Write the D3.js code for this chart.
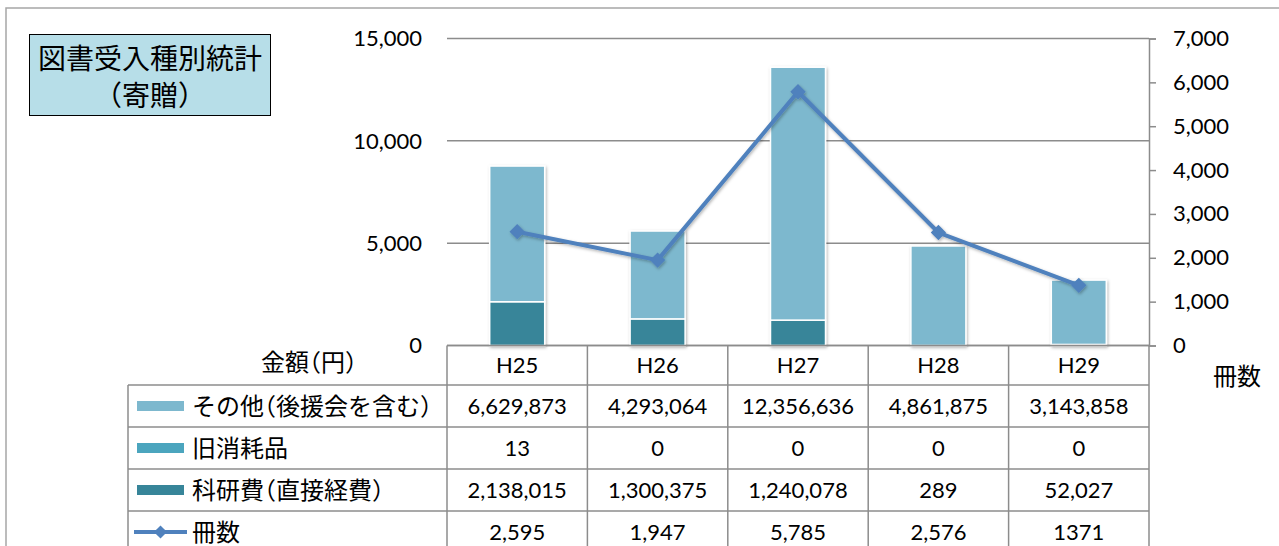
<!DOCTYPE html>
<html>
<head>
<meta charset="utf-8">
<script src="https://cdn.jsdelivr.net/npm/d3@7"></script>
<style>
  body { margin: 0; background: #fff; }
  svg { display: block; }
  .jp { font-feature-settings: "halt"; }
</style>
</head>
<body>
<svg id="chart" width="1279" height="546"></svg>
<script>
// data (yen / books)
const categories = ['H25', 'H26', 'H27', 'H28', 'H29'];
const otherYen = [6629873, 4293064, 12356636, 4861875, 3143858];
const consumableYen = [13, 0, 0, 0, 0];
const kakenYen = [2138015, 1300375, 1240078, 289, 52027];
const books = [2595, 1947, 5785, 2576, 1371];
const bookLabels = ['2,595', '1,947', '5,785', '2,576', '1371'];
const leftTicks = [0, 5000, 10000, 15000];
const rightTicks = [0, 1000, 2000, 3000, 4000, 5000, 6000, 7000];

const seriesNames = ['その他（後援会を含む）', '旧消耗品', '科研費（直接経費）', '冊数'];
const colors = ['#7db8ce', '#4ba5be', '#378599', '#4f81bd'];

const numFont = 'Lato, "Open Sans", sans-serif';
const jpFont = '"Noto Sans CJK JP", "Noto Sans", sans-serif';
const lineCol = '#8c8c8c';

// layout
const plot = { left: 447, right: 1149, top: 38.5, bottom: 345.5 };
const rowY = [345.5, 385, 427, 469, 511, 553];
const legendLeft = 128;

const svg = d3.select('#chart');
const defs = svg.append('defs');
defs.append('filter').attr('id', 'shadow')
    .attr('x', '-20%').attr('y', '-20%').attr('width', '140%').attr('height', '140%')
    .append('feDropShadow')
    .attr('dx', 1).attr('dy', 1.5).attr('stdDeviation', 1.5)
    .attr('flood-color', '#000').attr('flood-opacity', 0.3);

// outer chart border
svg.append('rect')
    .attr('x', 6).attr('y', 8).attr('width', 1300).attr('height', 600)
    .attr('fill', '#fff').attr('stroke', '#a6a6a6').attr('stroke-width', 1.5);

// scales
const x = d3.scaleBand().domain(categories).range([plot.left, plot.right]).padding(0);
const y = d3.scaleLinear().domain([0, 15000]).range([plot.bottom, plot.top]);
const yR = d3.scaleLinear().domain([0, 7000]).range([plot.bottom, plot.top]);

// gridlines
svg.append('g')
    .selectAll('line')
    .data(leftTicks)
    .enter()
    .append('line')
    .attr('x1', plot.left).attr('x2', plot.right)
    .attr('y1', d => y(d)).attr('y2', d => y(d))
    .attr('stroke', lineCol).attr('stroke-width', 1.5);

// left axis labels
svg.append('g')
    .selectAll('text')
    .data(leftTicks)
    .enter()
    .append('text')
    .attr('x', 422)
    .attr('y', d => y(d))
    .attr('dy', '0.35em')
    .attr('text-anchor', 'end')
    .attr('font-family', numFont)
    .attr('font-size', 22)
    .attr('fill', '#000')
    .text(d => d3.format(',')(d));

// right axis
const rAxis = svg.append('g')
    .attr('transform', 'translate(' + plot.right + ',0)')
    .call(d3.axisRight(yR).tickValues(rightTicks).tickSize(7).tickPadding(17).tickFormat(d3.format(',')));
rAxis.select('.domain').attr('stroke', lineCol).attr('stroke-width', 1.5);
rAxis.selectAll('.tick line').attr('stroke', lineCol).attr('stroke-width', 1.5);
rAxis.selectAll('.tick text')
    .attr('font-family', numFont).attr('font-size', 22).attr('fill', '#000');

// stacked bars (bottom: 科研費, then 旧消耗品, then その他)
const stackRows = categories.map((c, i) => ({
    cat: c,
    kaken: kakenYen[i] / 1000,
    consumable: consumableYen[i] / 1000,
    other: otherYen[i] / 1000
}));
const keys = ['kaken', 'consumable', 'other'];
const keyColor = { kaken: colors[2], consumable: colors[1], other: colors[0] };
const stacked = d3.stack().keys(keys)(stackRows);
const barW = 55;

svg.append('g')
    .attr('filter', 'url(#shadow)')
    .selectAll('g')
    .data(stacked)
    .enter()
    .append('g')
    .attr('fill', d => keyColor[d.key])
    .selectAll('rect')
    .data(d => d.map(v => ({ v: v, cat: v.data.cat })))
    .enter()
    .append('rect')
    .filter(d => y(d.v[0]) - y(d.v[1]) > 0.3)
    .attr('x', d => x(d.cat) + x.bandwidth() / 2 - barW / 2)
    .attr('y', d => y(d.v[1]))
    .attr('width', barW)
    .attr('height', d => y(d.v[0]) - y(d.v[1]))
    .attr('stroke', '#fff')
    .attr('stroke-width', 1.5);

// line for 冊数
const cx = c => x(c) + x.bandwidth() / 2;
const lineG = svg.append('g').attr('filter', 'url(#shadow)');
lineG.append('path')
    .datum(categories.map((c, i) => [cx(c), yR(books[i])]))
    .attr('d', d3.line())
    .attr('fill', 'none')
    .attr('stroke', colors[3])
    .attr('stroke-width', 4)
    .attr('stroke-linejoin', 'round');
lineG.selectAll('path.mk')
    .data(categories)
    .enter()
    .append('path')
    .attr('class', 'mk')
    .attr('d', d3.symbol().type(d3.symbolDiamond2).size(150))
    .attr('transform', (c, i) => 'translate(' + cx(c) + ',' + yR(books[i]) + ')')
    .attr('fill', colors[3]);

// data table
const tbl = svg.append('g');
const tLines = [];
// horizontal lines
tLines.push([plot.left, rowY[0], plot.right, rowY[0]]);
for (let r = 1; r < rowY.length; r++) tLines.push([legendLeft, rowY[r], plot.right, rowY[r]]);
// vertical lines
tLines.push([legendLeft, rowY[1], legendLeft, 560]);
categories.forEach(c => tLines.push([x(c), rowY[0], x(c), 560]));
tLines.push([plot.right, rowY[0], plot.right, 560]);
tbl.selectAll('line')
    .data(tLines)
    .enter()
    .append('line')
    .attr('x1', d => d[0]).attr('y1', d => d[1])
    .attr('x2', d => d[2]).attr('y2', d => d[3])
    .attr('stroke', lineCol).attr('stroke-width', 1.5);

// header row
tbl.selectAll('text.hdr')
    .data(categories)
    .enter()
    .append('text')
    .attr('class', 'hdr')
    .attr('x', d => cx(d))
    .attr('y', (rowY[0] + rowY[1]) / 2)
    .attr('dy', '0.35em')
    .attr('text-anchor', 'middle')
    .attr('font-family', numFont)
    .attr('font-size', 22)
    .text(d => d);

// value rows
const rowValues = [
    otherYen.map(d3.format(',')),
    consumableYen.map(d3.format(',')),
    kakenYen.map(d3.format(',')),
    bookLabels
];
rowValues.forEach((vals, r) => {
    const yc = (rowY[r + 1] + rowY[r + 2]) / 2;
    tbl.append('g')
        .selectAll('text')
        .data(vals)
        .enter()
        .append('text')
        .attr('x', (d, i) => cx(categories[i]))
        .attr('y', yc)
        .attr('dy', '0.35em')
        .attr('text-anchor', 'middle')
        .attr('font-family', numFont)
        .attr('font-size', 22)
        .text(d => d);
});

// legend column
seriesNames.forEach((name, r) => {
    const yc = (rowY[r + 1] + rowY[r + 2]) / 2;
    if (r < 3) {
        tbl.append('rect')
            .attr('x', 137).attr('y', yc - 5)
            .attr('width', 47).attr('height', 10)
            .attr('fill', colors[r]);
    } else {
        tbl.append('line')
            .attr('x1', 134).attr('x2', 187).attr('y1', yc).attr('y2', yc)
            .attr('stroke', colors[3]).attr('stroke-width', 4);
        tbl.append('path')
            .attr('d', d3.symbol().type(d3.symbolDiamond2).size(110))
            .attr('transform', 'translate(160.5,' + yc + ')')
            .attr('fill', colors[3]);
    }
    tbl.append('text')
        .attr('class', 'jp')
        .attr('x', 192).attr('y', yc)
        .attr('dy', '0.36em')
        .attr('font-family', jpFont)
        .attr('font-size', 24)
        .text(name);
});

// axis titles
svg.append('text')
    .attr('class', 'jp')
    .attr('x', 309).attr('y', 362).attr('dy', '0.36em')
    .attr('text-anchor', 'middle')
    .attr('font-family', jpFont).attr('font-size', 24)
    .text('金額（円）');
svg.append('text')
    .attr('class', 'jp')
    .attr('x', 1237).attr('y', 376).attr('dy', '0.36em')
    .attr('text-anchor', 'middle')
    .attr('font-family', jpFont).attr('font-size', 24)
    .text('冊数');

// title box
svg.append('rect')
    .attr('x', 29.5).attr('y', 34.5).attr('width', 241).attr('height', 81)
    .attr('fill', '#b7dee8').attr('stroke', '#000').attr('stroke-width', 1);
const title = svg.append('text')
    .attr('class', 'jp')
    .attr('text-anchor', 'middle')
    .attr('font-family', jpFont).attr('font-size', 28);
title.append('tspan').attr('x', 150).attr('y', 59).attr('dy', '0.36em').text('図書受入種別統計');
title.append('tspan').attr('x', 150).attr('y', 96).attr('dy', '0.36em').text('（寄贈）');
</script>
</body>
</html>
